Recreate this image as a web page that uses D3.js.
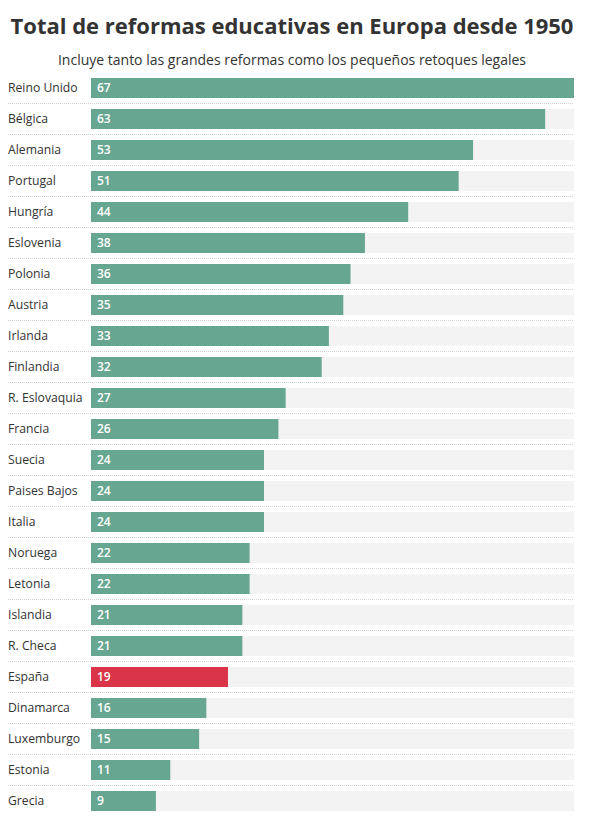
<!DOCTYPE html>
<html>
<head>
<meta charset="utf-8">
<script src="https://cdn.jsdelivr.net/npm/d3@7"></script>
<style>
  body { margin: 0; background: #fff; }
  svg { font-family: "Open Sans", sans-serif; display: block; }
</style>
</head>
<body>
<div id="chart"></div>
<script>
const countries = ['Reino Unido', 'Bélgica', 'Alemania', 'Portugal', 'Hungría', 'Eslovenia',
  'Polonia', 'Austria', 'Irlanda', 'Finlandia', 'R. Eslovaquia', 'Francia', 'Suecia',
  'Paises Bajos', 'Italia', 'Noruega', 'Letonia', 'Islandia', 'R. Checa', 'España',
  'Dinamarca', 'Luxemburgo', 'Estonia', 'Grecia'];
const reforms = [67, 63, 53, 51, 44, 38, 36, 35, 33, 32, 27, 26, 24, 24, 24, 22, 22, 21, 21, 19, 16, 15, 11, 9];
const highlight = ['España'];

const titleText = 'Total de reformas educativas en Europa desde 1950';
const subtitleText = 'Incluye tanto las grandes reformas como los pequeños retoques legales';

const width = 602, height = 828;
const margin = { left: 91, right: 28, top: 78 };
const rowStep = 31;

const rows = countries.map((c, i) => ({ country: c, value: reforms[i] }));

const svg = d3.select('#chart').append('svg')
  .attr('width', width)
  .attr('height', height);

svg.append('text')
  .attr('x', 292)
  .attr('y', 34)
  .attr('text-anchor', 'middle')
  .attr('font-size', 22)
  .attr('font-weight', 700)
  .attr('fill', '#333')
  .text(titleText);

svg.append('text')
  .attr('x', 292)
  .attr('y', 65)
  .attr('text-anchor', 'middle')
  .attr('font-size', 14)
  .attr('fill', '#333')
  .text(subtitleText);

let x = d3.scaleLinear()
  .domain([0, d3.max(reforms)])
  .range([margin.left, width - margin.right]);

let y = d3.scaleBand()
  .domain(countries)
  .range([margin.top, margin.top + countries.length * rowStep])
  .paddingInner(11 / 31)
  .paddingOuter(5.5 / 31)
  .align(0);

let row = svg.selectAll('.row')
  .data(rows)
  .enter()
  .append('g')
  .attr('class', 'row')
  .attr('transform', d => 'translate(0,' + y(d.country) + ')');

// dotted separators, none under the last row
row.filter((d, i) => i < rows.length - 1)
  .append('line')
  .attr('x1', 8)
  .attr('x2', x.range()[1])
  .attr('y1', y.bandwidth() + 5.5)
  .attr('y2', y.bandwidth() + 5.5)
  .attr('stroke', '#d4d4d4')
  .attr('stroke-dasharray', '1,1');

// background track
row.append('rect')
  .attr('x', x(0))
  .attr('width', x.range()[1] - x(0))
  .attr('height', y.bandwidth())
  .attr('fill', '#f3f3f3');

row.append('rect')
  .attr('x', x(0))
  .attr('width', d => x(d.value) - x(0))
  .attr('height', y.bandwidth())
  .attr('fill', d => highlight.includes(d.country) ? '#d93447' : '#67a690');

row.append('text')
  .attr('x', 8)
  .attr('y', y.bandwidth() / 2 + 4.4)
  .attr('font-size', 12.2)
  .attr('fill', '#333')
  .text(d => d.country);

row.append('text')
  .attr('x', x(0) + 6)
  .attr('y', y.bandwidth() / 2 + 4.2)
  .attr('font-size', 12)
  .attr('font-weight', 600)
  .attr('fill', '#fff')
  .text(d => d.value);
</script>
</body>
</html>
